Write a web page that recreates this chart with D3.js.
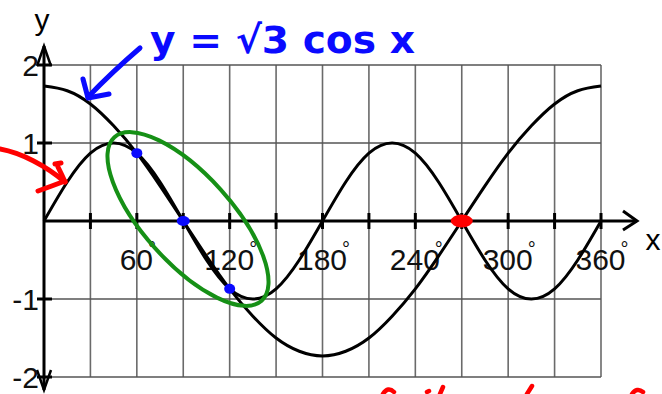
<!DOCTYPE html>
<html>
<head>
<meta charset="utf-8">
<script src="https://cdn.jsdelivr.net/npm/d3@7"></script>
<style>
  html, body { margin: 0; padding: 0; background: #fff; }
  svg { display: block; }
</style>
</head>
<body>
<svg id="chart" width="662" height="394"></svg>
<script>
// Angles in degrees, sampled every 15°
const angles = [0, 15, 30, 45, 60, 75, 90, 105, 120, 135, 150, 165, 180,
                195, 210, 225, 240, 255, 270, 285, 300, 315, 330, 345, 360];
// y = √3 cos x
const cosValues = [1.73, 1.67, 1.50, 1.22, 0.87, 0.45, 0, -0.45, -0.87, -1.22, -1.50, -1.67, -1.73,
                   -1.67, -1.50, -1.22, -0.87, -0.45, 0, 0.45, 0.87, 1.22, 1.50, 1.67, 1.73];
// y = sin 2x
const sinValues = [0, 0.5, 0.87, 1, 0.87, 0.5, 0, -0.5, -0.87, -1, -0.87, -0.5, 0,
                   0.5, 0.87, 1, 0.87, 0.5, 0, -0.5, -0.87, -1, -0.87, -0.5, 0];
// Marked intersections
const blueX = [60, 90, 120];
const blueY = [0.87, 0, -0.87];
const redX = [270];
const redY = [0];
// Grid and labels
const gridX = [30, 60, 90, 120, 150, 180, 210, 240, 270, 300, 330, 360];
const labelX = [60, 120, 180, 240, 300, 360];
const gridY = [2, 1, -1, -2];
const labelY = ["2", "1", "-1", "-2"];

const svg = d3.select("#chart");
const x = d3.scaleLinear().domain([0, 360]).range([44, 601]);
const y = d3.scaleLinear().domain([-2, 2]).range([377, 65]);

// grid
svg.append("g").selectAll("line").data(gridX).join("line")
  .attr("x1", d => x(d)).attr("x2", d => x(d))
  .attr("y1", y(2)).attr("y2", y(-2))
  .attr("stroke", "#6a6a6a").attr("stroke-width", 1.6);
svg.append("g").selectAll("line").data(gridY).join("line")
  .attr("x1", x(0)).attr("x2", x(360))
  .attr("y1", d => y(d)).attr("y2", d => y(d))
  .attr("stroke", "#555").attr("stroke-width", 1.6);

// axes
const ax = svg.append("g").attr("stroke", "#000").attr("fill", "none").attr("stroke-width", 3);
ax.append("line").attr("x1", x(0)).attr("x2", 637).attr("y1", y(0)).attr("y2", y(0));
ax.append("polyline").attr("points", `623,211 637,${y(0)} 623,230`);
ax.append("line").attr("x1", x(0)).attr("x2", x(0)).attr("y1", 46).attr("y2", 390);
ax.append("polyline").attr("points", `37,66 ${x(0)},46 51,66`).attr("stroke-width", 2.5);
ax.append("polyline").attr("points", `37,370 ${x(0)},390 51,370`).attr("stroke-width", 2.5);
ax.selectAll(".tx").data(gridX).join("line").attr("class", "tx")
  .attr("x1", d => x(d)).attr("x2", d => x(d))
  .attr("y1", y(0) - 8).attr("y2", y(0) + 8);
ax.selectAll(".ty").data(gridY).join("line").attr("class", "ty")
  .attr("x1", x(0) - 7).attr("x2", x(0) + 8)
  .attr("y1", d => y(d)).attr("y2", d => y(d));

// tick labels: number with a small raised degree mark at its top-right
const font = "'Liberation Sans', Arial, sans-serif";
const xt = svg.append("g").attr("font-family", font).attr("fill", "#111")
  .selectAll("text").data(labelX).join("text")
  .attr("x", d => x(d) + 1).attr("y", 270)
  .attr("text-anchor", "middle").attr("font-size", 30);
xt.append("tspan").text(d => d);
xt.append("tspan").attr("dx", -5).attr("dy", -14).attr("font-size", 20).text("°");

svg.append("g").attr("font-family", font).attr("fill", "#111")
  .selectAll("text").data(gridY).join("text")
  .attr("x", 39).attr("y", d => y(d))
  .attr("text-anchor", "end").attr("dominant-baseline", "central")
  .attr("font-size", 30)
  .text((d, i) => labelY[i]);
svg.append("text").attr("x", 42).attr("y", 30).attr("text-anchor", "middle")
  .attr("font-family", font).attr("font-size", 30).text("y");
svg.append("text").attr("x", 653).attr("y", 250).attr("text-anchor", "middle")
  .attr("font-family", font).attr("font-size", 30).text("x");

// curves
const line = vals => d3.line()
  .x((d, i) => x(angles[i])).y(d => y(d))
  .curve(d3.curveNatural)(vals);
svg.append("path").attr("d", line(cosValues))
  .attr("fill", "none").attr("stroke", "#000").attr("stroke-width", 3);
svg.append("path").attr("d", line(sinValues))
  .attr("fill", "none").attr("stroke", "#000").attr("stroke-width", 3);

// green loop around the three solutions
svg.append("ellipse")
  .attr("cx", 188).attr("cy", 219).attr("rx", 110).attr("ry", 44)
  .attr("transform", "rotate(48,188,219)")
  .attr("fill", "none").attr("stroke", "#169016").attr("stroke-width", 4);

// intersection dots
svg.append("g").selectAll("ellipse").data(blueX).join("ellipse")
  .attr("cx", d => x(d)).attr("cy", (d, i) => y(blueY[i]))
  .attr("rx", (d, i) => i === 1 ? 6.5 : 5.5).attr("ry", 5)
  .attr("fill", "#0a0aff");
svg.append("g").selectAll("ellipse").data(redX).join("ellipse")
  .attr("cx", d => x(d)).attr("cy", (d, i) => y(redY[i]))
  .attr("rx", 11).attr("ry", 6.5)
  .attr("fill", "#ff0000");

// handwritten-style annotations
const blue = "#0a0aff";
svg.append("text").attr("x", 150).attr("y", 53)
  .attr("font-family", "'DejaVu Sans', sans-serif").attr("font-weight", "bold")
  .attr("font-size", 38).attr("fill", blue)
  .attr("textLength", 265).attr("lengthAdjust", "spacingAndGlyphs")
  .text("y = √3 cos x");
const pen = svg.append("g").attr("fill", "none").attr("stroke-linecap", "round").attr("stroke-linejoin", "round");
pen.append("path").attr("d", "M140,48 Q112,72 88,97").attr("stroke", blue).attr("stroke-width", 5);
pen.append("path").attr("d", "M83,79 L88,98 L109,94").attr("stroke", blue).attr("stroke-width", 5);
pen.append("path").attr("d", "M0,149 C22,153 46,166 65,182").attr("stroke", "#ff0000").attr("stroke-width", 5);
pen.append("path").attr("d", "M38,191 Q52,186 65,181 M55,164 L61,163 M58,167 Q62,175 65,182").attr("stroke", "#ff0000").attr("stroke-width", 5);
// partial red note along the bottom edge
pen.append("path").attr("d", "M383,394 Q388,386 394,392 M427,392 L429,391 M443,387 L440,394 M532,386 L527,394 M632,394 Q637,387 643,392")
  .attr("stroke", "#ff0000").attr("stroke-width", 4.5);
</script>
</body>
</html>
